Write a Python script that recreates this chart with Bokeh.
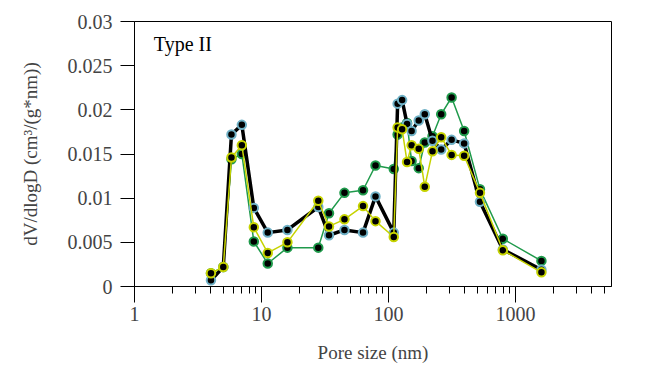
from bokeh.plotting import figure
from bokeh.models import FixedTicker, CustomJSTickFormatter, Label, ColumnDataSource, Range1d
from bokeh.embed import file_html
from bokeh.resources import INLINE

# ---- data ----
pore_size = [4, 5, 5.8, 7, 8.7, 11.2, 16, 28, 34, 45, 63, 79, 110, 118, 128, 140,
             152, 173, 193, 222, 260, 314, 394, 525, 795, 1600]
series_black = [0.0007, 0.0022, 0.0172, 0.0183, 0.0089, 0.0061, 0.0064, 0.0090, 0.0058,
                0.0064, 0.0061, 0.0102, 0.0061, 0.0207, 0.0211, 0.0184, 0.0176, 0.0188,
                0.0195, 0.0165, 0.0155, 0.0166, 0.0162, 0.0096, 0.0042, 0.0019]
series_green = [0.0015, 0.0022, 0.0144, 0.0150, 0.0051, 0.0026, 0.0044, 0.0044, 0.0083,
                0.0106, 0.0109, 0.0137, 0.0133, 0.0172, 0.0180, 0.0185, 0.0142, 0.0134,
                0.0163, 0.0170, 0.0195, 0.0214, 0.0176, 0.0110, 0.0054, 0.0029]
series_yellow = [0.0015, 0.0022, 0.0146, 0.0160, 0.0067, 0.0038, 0.0050, 0.0097, 0.0068,
                 0.0076, 0.0091, 0.0074, 0.0056, 0.0180, 0.0178, 0.0141, 0.0160, 0.0156,
                 0.0113, 0.0153, 0.0169, 0.0149, 0.0148, 0.0106, 0.0041, 0.0016]
x_major = [1, 10, 100, 1000]
x_minor = [2, 3, 4, 5, 6, 7, 8, 9, 20, 30, 40, 50, 60, 70, 80, 90,
           200, 300, 400, 500, 600, 700, 800, 900, 2000, 3000, 4000, 5000]
y_major = [0, 0.005, 0.01, 0.015, 0.02, 0.025, 0.03]
x_label = "Pore size (nm)"
y_label = "dV/dlogD (cm³/(g*nm))"
panel_text = "Type II"

FONT = "Liberation Serif"

p = figure(width=661, height=381, frame_width=477, frame_height=265,
           min_border_left=134, min_border_right=50, min_border_top=21, min_border_bottom=95,
           x_axis_type="log", x_range=Range1d(1, 5700), y_range=Range1d(0, 0.03),
           output_backend="svg", toolbar_location=None)
p.grid.visible = False
p.outline_line_color = "black"
p.outline_line_width = 1
p.background_fill_color = "white"
p.border_fill_color = "white"

xa = p.xaxis[0]
xa.ticker = FixedTicker(ticks=x_major, minor_ticks=x_minor)
xa.formatter = CustomJSTickFormatter(code="return String(tick);")
xa.major_tick_out = 16
xa.major_tick_in = 0
xa.minor_tick_out = 7
xa.minor_tick_in = 0
xa.major_label_standoff = 4
xa.axis_label = x_label
xa.axis_label_standoff = 18
xa.axis_label_text_font = FONT
xa.axis_label_text_font_style = "normal"
xa.axis_label_text_font_size = "19px"
xa.major_label_text_font = FONT
xa.major_label_text_font_size = "20px"
xa.axis_line_color = "black"
xa.major_tick_line_color = "black"
xa.minor_tick_line_color = "black"

ya = p.yaxis[0]
ya.ticker = FixedTicker(ticks=y_major)
ya.formatter = CustomJSTickFormatter(
    code="var s = tick.toFixed(3).replace(/0+$/, ''); return s.replace(/\\.$/, '');")
ya.major_tick_out = 14
ya.major_tick_in = 0
ya.minor_tick_out = 0
ya.minor_tick_in = 0
ya.major_label_standoff = 8
ya.major_label_text_font = FONT
ya.major_label_text_font_size = "20px"
ya.axis_label = y_label
ya.axis_label_standoff = 24
ya.axis_label_text_font = FONT
ya.axis_label_text_font_style = "normal"
ya.axis_label_text_font_size = "19px"
ya.axis_line_color = "black"
ya.major_tick_line_color = "black"

src = ColumnDataSource(dict(x=pore_size, b=series_black, g=series_green, y=series_yellow))

GREEN = "#1f9a4b"
YELLOW = "#c6d300"
BLUE = "#6fb1c6"

p.line("x", "g", source=src, line_color=GREEN, line_width=1.5)
p.scatter("x", "g", source=src, size=8.5, fill_color="black", line_color=GREEN, line_width=2)
p.line("x", "b", source=src, line_color="black", line_width=3.5)
p.scatter("x", "b", source=src, size=8.5, fill_color="black", line_color=BLUE, line_width=2)
p.line("x", "y", source=src, line_color=YELLOW, line_width=1.5)
p.scatter("x", "y", source=src, size=8.5, fill_color="black", line_color=YELLOW, line_width=2)

p.add_layout(Label(x=1.42, y=0.0275, text=panel_text, text_font=FONT, text_font_size="20px",
                   text_baseline="middle", text_align="left", text_color="black"))

open("out.html", "w").write(file_html(p, INLINE))
